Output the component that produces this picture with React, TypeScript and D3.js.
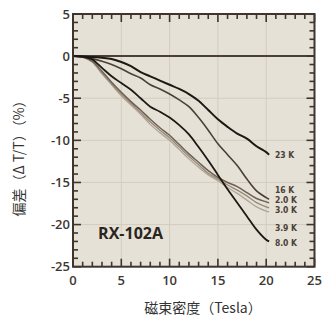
import React from 'react';
import { useRef, useEffect } from 'react';
import * as d3 from 'd3';

const fields = [0, 1, 2, 3, 4, 5, 6, 7, 8, 9, 10, 11, 12, 13, 14, 15, 16, 17, 18, 19, 20, 20.3];
const k23 = [0, -0.05, -0.1, -0.2, -0.35, -0.7, -1.2, -1.9, -2.4, -2.9, -3.4, -3.9, -4.5, -5.3, -6.4, -7.5, -8.4, -9.2, -9.8, -10.7, -11.4, -11.7];
const k16 = [0, -0.1, -0.3, -0.6, -1.0, -1.5, -2.1, -2.6, -3.4, -3.9, -4.5, -5.2, -6.0, -7.3, -8.8, -10.4, -11.7, -13.0, -14.6, -16.0, -16.8, -17.0];
const k20 = [0, -0.1, -0.6, -1.8, -3.1, -4.3, -5.4, -6.4, -7.5, -8.5, -9.4, -10.5, -11.6, -12.6, -13.6, -14.4, -15.0, -15.5, -16.2, -16.9, -17.3, -17.4];
const k30 = [0, -0.1, -0.7, -2.0, -3.3, -4.5, -5.6, -6.7, -7.8, -8.8, -9.7, -10.8, -11.9, -12.9, -13.9, -14.6, -15.3, -15.9, -16.6, -17.4, -17.9, -18.0];
const k39 = [0, -0.1, -0.7, -2.1, -3.4, -4.7, -5.8, -6.9, -8.1, -9.1, -10.0, -11.1, -12.2, -13.2, -14.1, -14.8, -15.6, -16.3, -17.1, -17.9, -18.4, -18.5];
const k80 = [0, -0.05, -0.4, -1.4, -2.4, -3.2, -4.0, -5.0, -6.0, -6.6, -7.3, -8.2, -9.3, -10.8, -12.4, -14.1, -15.8, -17.4, -19.0, -20.6, -21.8, -22.0];

const seriesNames = ['23 K', '16 K', '2.0 K', '3.0 K', '3.9 K', '8.0 K'];
const seriesValues = [k23, k16, k20, k30, k39, k80];
const labelY = [-11.8, -15.85, -17.05, -18.25, -20.4, -22.2];
const lineColors = ['#1c1814', '#4a4038', '#6e6052', '#978a7c', '#b0a595', '#1c1814'];
const lineWidths = [2, 1.6, 1.5, 1.4, 1.3, 1.8];

const xTicks = [0, 5, 10, 15, 20, 25];
const yTicks = [5, 0, -5, -10, -15, -20, -25];

export default function App() {
  const svgRef = useRef(null);

  useEffect(() => {
    const w = 324;
    const h = 324;
    const left = 73, right = 314.5, top = 14, bottom = 266.7;
    const svg = d3.select(svgRef.current);
    svg.selectAll('*').remove();

    const x = d3.scaleLinear().domain([0, 25]).range([left, right]);
    const y = d3.scaleLinear().domain([-25, 5]).range([bottom, top]);

    // plot background
    svg.append('rect')
      .attr('x', left).attr('y', top)
      .attr('width', right - left).attr('height', bottom - top)
      .attr('fill', '#e5e1d6');

    // faint grid
    svg.selectAll('.gx').data([5, 10, 15, 20]).join('line')
      .attr('x1', d => x(d)).attr('x2', d => x(d))
      .attr('y1', top).attr('y2', bottom)
      .attr('stroke', '#d3cdbf').attr('stroke-width', 1);
    svg.selectAll('.gy').data([-5, -10, -15, -20]).join('line')
      .attr('y1', d => y(d)).attr('y2', d => y(d))
      .attr('x1', left).attr('x2', right)
      .attr('stroke', '#d3cdbf').attr('stroke-width', 1);

    // zero line
    svg.append('line')
      .attr('x1', left).attr('x2', right)
      .attr('y1', y(0)).attr('y2', y(0))
      .attr('stroke', '#4a4038').attr('stroke-width', 2);

    // ticks, inward on every side
    const tickColor = '#3f352c';
    const xMinor = d3.range(0, 26, 1);
    const yMinor = d3.range(-25, 6, 1);
    const len = (d) => (d % 5 === 0 ? 8 : 5);
    [bottom, top].forEach((yy, i) => {
      svg.append('g').selectAll('line').data(xMinor).join('line')
        .attr('x1', d => x(d)).attr('x2', d => x(d))
        .attr('y1', yy).attr('y2', d => (i === 0 ? yy - len(d) : yy + len(d)))
        .attr('stroke', tickColor).attr('stroke-width', 1.6);
    });
    [left, right].forEach((xx, i) => {
      svg.append('g').selectAll('line').data(yMinor).join('line')
        .attr('y1', d => y(d)).attr('y2', d => y(d))
        .attr('x1', xx).attr('x2', d => (i === 0 ? xx + len(d) : xx - len(d)))
        .attr('stroke', tickColor).attr('stroke-width', 1.6);
    });

    // curves
    const line = d3.line()
      .x((d) => x(d[0]))
      .y((d) => y(d[1]))
      .curve(d3.curveCatmullRom.alpha(0.5));

    const order = [4, 3, 2, 1, 5, 0];
    order.forEach((i) => {
      const pts = fields.map((f, j) => [f, seriesValues[i][j]]);
      svg.append('path')
        .attr('d', line(pts))
        .attr('fill', 'none')
        .attr('stroke', lineColors[i])
        .attr('stroke-width', lineWidths[i])
        .attr('stroke-linejoin', 'round');
    });

    // series labels
    svg.selectAll('.lbl').data(seriesNames).join('text')
      .attr('x', x(20.9))
      .attr('y', (d, i) => y(labelY[i]))
      .attr('dy', '0.35em')
      .attr('fill', '#4a4038')
      .style('font-family', '"Liberation Sans Narrow", "DejaVu Sans Condensed", sans-serif')
      .style('font-size', '8.5px')
      .style('font-weight', 'bold')
      .text(d => d);

    // frame
    svg.append('rect')
      .attr('x', left).attr('y', top)
      .attr('width', right - left).attr('height', bottom - top)
      .attr('fill', 'none')
      .attr('stroke', tickColor).attr('stroke-width', 2);

    // model name
    svg.append('text')
      .attr('x', x(2.6)).attr('y', y(-21))
      .attr('dy', '0.35em')
      .attr('fill', '#2b2520')
      .style('font-family', '"Open Sans", "Noto Sans", sans-serif')
      .style('font-size', '16px')
      .style('font-weight', 'bold')
      .text('RX-102A');

    // tick labels
    svg.selectAll('.xl').data(xTicks).join('text')
      .attr('x', d => x(d)).attr('y', bottom + 14)
      .attr('dy', '0.35em')
      .attr('text-anchor', 'middle')
      .attr('fill', '#3d3833')
      .style('font-family', '"Open Sans", "Noto Sans", sans-serif')
      .style('font-size', '13px')
      .style('font-weight', 600)
      .text(d => d);
    svg.selectAll('.yl').data(yTicks).join('text')
      .attr('x', left - 3).attr('y', d => y(d))
      .attr('dy', '0.35em')
      .attr('text-anchor', 'end')
      .attr('fill', '#3d3833')
      .style('font-family', '"Open Sans", "Noto Sans", sans-serif')
      .style('font-size', '13px')
      .style('font-weight', 600)
      .text(d => d);

    // axis titles
    svg.append('text')
      .attr('x', 203).attr('y', 308)
      .attr('dy', '0.35em')
      .attr('text-anchor', 'middle')
      .attr('fill', '#333')
      .style('font-family', '"Noto Sans CJK JP", sans-serif')
      .style('font-size', '14px')
      .text('磁束密度（Tesla）');
    svg.append('text')
      .attr('transform', 'translate(19,155) rotate(-90)')
      .attr('dy', '0.35em')
      .attr('text-anchor', 'middle')
      .attr('fill', '#333')
      .style('font-family', '"Noto Sans CJK JP", sans-serif')
      .style('font-size', '14px')
      .text('偏差（Δ T/T）（%）');

    svg.attr('width', w).attr('height', h);
  }, []);

  return (
    <svg
      ref={svgRef}
      width={324}
      height={324}
      style={{ position: 'absolute', left: 0, top: 0, background: 'white' }}
    ></svg>
  );
}
